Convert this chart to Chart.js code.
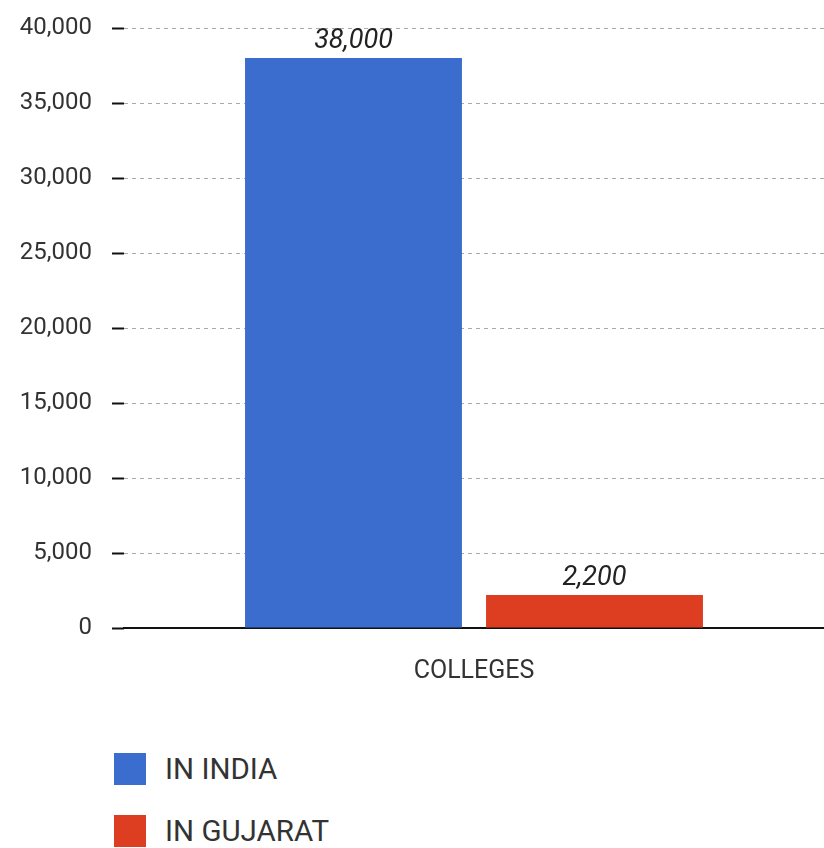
<!DOCTYPE html>
<html>
<head>
<meta charset="utf-8">
<script src="https://cdn.jsdelivr.net/npm/chart.js@4/dist/chart.umd.min.js"></script>
<style>
  html, body { margin: 0; padding: 0; background: #fff; overflow: hidden; }
  #wrap { position: relative; width: 824px; height: 848px; }
  #box { position: absolute; left: 0; top: 0; width: 824px; height: 700px; }
  #legend { position: absolute; left: 114px; top: 753px; font-family: Roboto, sans-serif; font-size: 29.5px; color: #333; }
  .item { display: flex; align-items: center; height: 32px; margin-bottom: 30px; }
  .sw { width: 32px; height: 32px; margin-right: 19px; }
</style>
</head>
<body>
<div id="wrap">
  <div id="box"><canvas id="c"></canvas></div>
  <div id="legend"></div>
</div>
<script>
const categories = ['COLLEGES'];
const seriesNames = ['IN INDIA', 'IN GUJARAT'];
const seriesColors = ['#3B6DCE', '#DD3E22'];
const inIndia = [38000];
const inGujarat = [2200];
const yTicks = [0, 5000, 10000, 15000, 20000, 25000, 30000, 35000, 40000];

const seriesValues = [inIndia, inGujarat];
const fmt = v => Number(v).toLocaleString('en-US');

const valueLabels = {
  id: 'valueLabels',
  afterDatasetsDraw(chart) {
    const ctx = chart.ctx;
    ctx.save();
    ctx.font = 'italic 27px Roboto, sans-serif';
    ctx.fillStyle = '#222';
    ctx.textAlign = 'center';
    ctx.textBaseline = 'alphabetic';
    chart.data.datasets.forEach((ds, i) => {
      const meta = chart.getDatasetMeta(i);
      meta.data.forEach((bar, j) => {
        ctx.fillText(fmt(ds.data[j]), bar.x, bar.y - 10);
      });
    });
    ctx.restore();
  }
};

const chart = new Chart(document.getElementById('c'), {
  type: 'bar',
  data: {
    labels: categories,
    datasets: seriesNames.map((n, i) => ({
      label: n,
      data: seriesValues[i],
      backgroundColor: seriesColors[i],
      borderWidth: 0,
      categoryPercentage: 0.6886,
      barPercentage: 0.9
    }))
  },
  options: {
    responsive: true,
    maintainAspectRatio: false,
    animation: false,
    layout: { padding: { top: 28, right: 0, left: 0, bottom: 0 } },
    plugins: { legend: { display: false }, tooltip: { enabled: false } },
    scales: {
      x: {
        grid: { display: false, drawTicks: false },
        border: { display: true, color: '#111', width: 2 },
        ticks: { color: '#333', font: { family: 'Roboto, sans-serif', size: 25 }, padding: 29 },
        afterFit(s) { s.height = 72; s.paddingLeft = 0; s.paddingRight = 0; }
      },
      y: {
        min: 0, max: 40000,
        afterBuildTicks(s) { s.ticks = yTicks.map(v => ({ value: v })); },
        grid: { color: '#aaa', lineWidth: 1, tickLength: 12, tickColor: '#111', tickWidth: 2, tickBorderDash: [] },
        border: { display: false, dash: [4, 4] },
        ticks: {
          color: '#333',
          font: { family: 'Roboto, sans-serif', size: 24 },
          padding: 20,
          callback: v => fmt(v)
        },
        afterFit(s) { s.width = 124; s.paddingTop = 0; s.paddingBottom = 0; }
      }
    }
  },
  plugins: [valueLabels]
});

const lg = document.getElementById('legend');
seriesNames.forEach((n, i) => {
  const it = document.createElement('div');
  it.className = 'item';
  const sw = document.createElement('div');
  sw.className = 'sw';
  sw.style.background = seriesColors[i];
  const t = document.createElement('span');
  t.textContent = n;
  it.appendChild(sw); it.appendChild(t);
  lg.appendChild(it);
});
</script>
</body>
</html>
